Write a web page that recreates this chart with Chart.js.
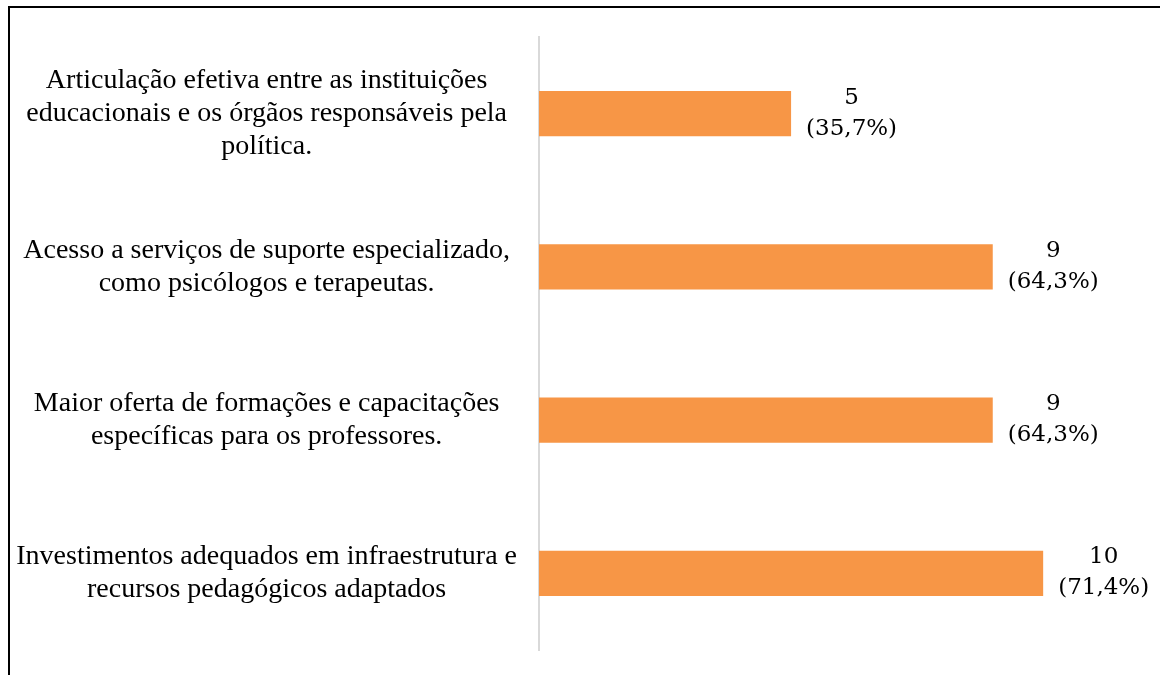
<!DOCTYPE html>
<html>
<head>
<meta charset="utf-8">
<script src="https://cdn.jsdelivr.net/npm/chart.js@4.4.1/dist/chart.umd.min.js"></script>
<style>
  html, body { margin: 0; padding: 0; background: #fff; }
  .wrap { position: relative; width: 1160px; height: 675px; overflow: hidden; }
  .frame { position: absolute; left: 8px; top: 6px; width: 1300px; height: 800px;
           border-left: 2px solid #000; border-top: 2px solid #000; }
  canvas { position: absolute; left: 0; top: 0; }
</style>
</head>
<body>
<div class="wrap">
  <div class="frame"></div>
  <canvas id="chart" width="1160" height="675"></canvas>
</div>
<script>
// categories (top to bottom)
const categories = [
  ['Articulação efetiva entre as instituições', 'educacionais e os órgãos responsáveis pela', 'política.'],
  ['Acesso a serviços de suporte especializado,', 'como psicólogos e terapeutas.'],
  ['Maior oferta de formações e capacitações', 'específicas para os professores.'],
  ['Investimentos adequados em infraestrutura e', 'recursos pedagógicos adaptados']
];
const counts = [5, 9, 9, 10];
const percents = ['35,7%', '64,3%', '64,3%', '71,4%'];

// draws "n" and "(p%)" right of each bar
const barLabels = {
  id: 'barLabels',
  afterDatasetsDraw(chart) {
    const ctx = chart.ctx;
    const meta = chart.getDatasetMeta(0);
    ctx.save();
    ctx.font = '23px "DejaVu Serif"';
    ctx.fillStyle = '#000';
    ctx.textAlign = 'center';
    ctx.textBaseline = 'alphabetic';
    meta.data.forEach((bar, i) => {
      const l1 = String(counts[i]);
      const l2 = '(' + percents[i] + ')';
      const w = Math.max(ctx.measureText(l1).width, ctx.measureText(l2).width);
      const x = bar.x + 15 + w / 2;
      ctx.fillText(l1, x, bar.y - 10);
      ctx.fillText(l2, x, bar.y + 21);
    });
    ctx.restore();
  }
};

new Chart(document.getElementById('chart'), {
  type: 'bar',
  data: {
    labels: categories,
    datasets: [{
      data: counts,
      backgroundColor: '#f79646',
      barPercentage: 1,
      categoryPercentage: 0.295
    }]
  },
  options: {
    indexAxis: 'y',
    responsive: false,
    animation: false,
    layout: { padding: { top: 37, bottom: 25, right: 16, left: 0 } },
    plugins: { legend: { display: false }, tooltip: { enabled: false } },
    scales: {
      x: { display: false, min: 0, max: 12 },
      y: {
        grid: { display: false, drawTicks: false },
        border: { display: true, color: '#d9d9d9', width: 2 },
        ticks: {
          crossAlign: 'center',
          padding: 22,
          color: '#000',
          font: { family: '"Liberation Serif"', size: 28, lineHeight: 1.18 }
        },
        afterFit(scale) {
          scale.width = 539;
          scale.paddingTop = 0;
          scale.paddingBottom = 0;
        }
      }
    }
  },
  plugins: [barLabels]
});
</script>
</body>
</html>
